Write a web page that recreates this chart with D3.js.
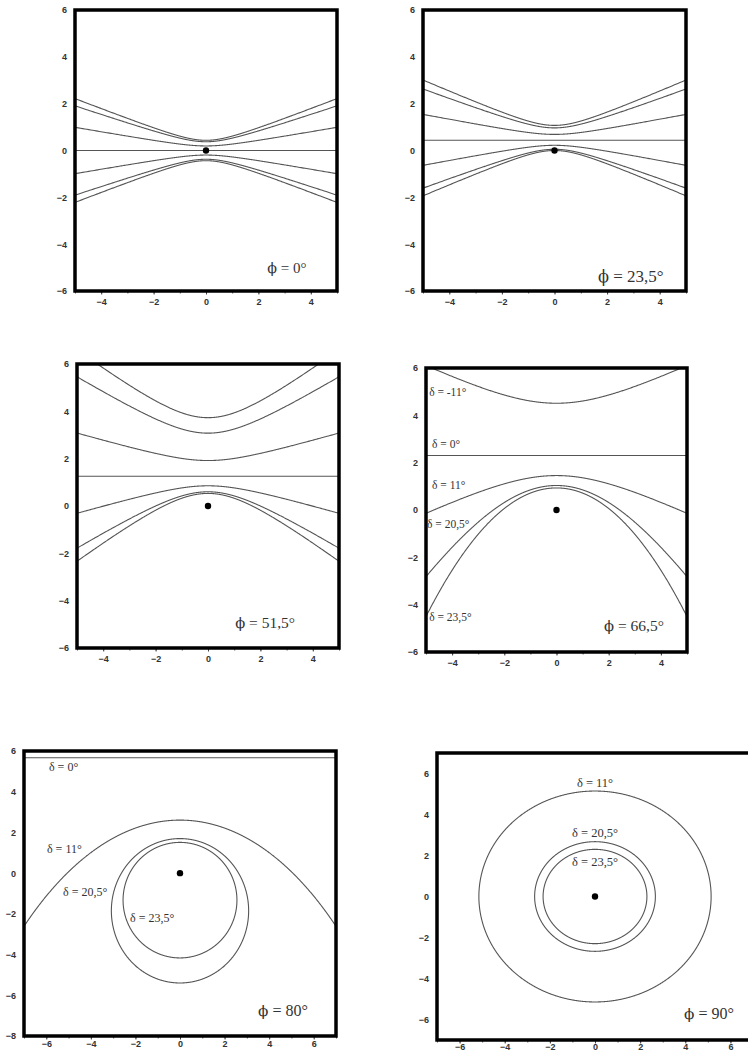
<!DOCTYPE html>
<html><head><meta charset="utf-8">
<script src="https://cdn.jsdelivr.net/npm/d3@7"></script>
<style>body{margin:0;background:#fff;overflow:hidden}</style>
</head><body>
<svg id="c" width="748" height="1052"></svg>
<script>
// ---- data ----
const latitudes = [0, 23.5, 51.5, 66.5, 80, 90];
const latitudeLabels = ["ϕ = 0°", "ϕ = 23,5°", "ϕ = 51,5°", "ϕ = 66,5°", "ϕ = 80°", "ϕ = 90°"];
const declinations = [-23.5, -20.5, -11, 0, 11, 20.5, 23.5];
const xDomains = [[-5, 5], [-5, 5], [-5, 5], [-5, 5], [-7, 7], [-7, 7]];
const yDomains = [[-6, 6], [-6, 6], [-6, 6], [-6, 6], [-8, 6], [-7, 7]];
const xTickLabels = [[-4,-2,0,2,4], [-4,-2,0,2,4], [-4,-2,0,2,4], [-4,-2,0,2,4], [-6,-4,-2,0,2,4,6], [-6,-4,-2,0,2,4,6]];
const yTickLabels = [[-6,-4,-2,0,2,4,6], [-6,-4,-2,0,2,4,6], [-6,-4,-2,0,2,4,6], [-6,-4,-2,0,2,4,6], [-8,-6,-4,-2,0,2,4,6], [-6,-4,-2,0,2,4,6]];
const declinationLabelsP4 = ["δ = -11°", "δ = 0°", "δ = 11°", "δ = 20,5°", "δ = 23,5°"];
const declinationLabelsP5 = ["δ = 0°", "δ = 11°", "δ = 20,5°", "δ = 23,5°"];
const declinationLabelsP6 = ["δ = 11°", "δ = 20,5°", "δ = 23,5°"];

// ---- layout (pixels / anchor positions) ----
const panels = [
  {x0: 75,  x1: 337, y0: 10,  y1: 291, phiPos: [3.09, -5.23], phiSize: 15, tickPad: 4},
  {x0: 423, x1: 686, y0: 10,  y1: 291, phiPos: [2.9, -5.6],  phiSize: 17, tickPad: 4},
  {x0: 77,  x1: 339, y0: 364, y1: 648, phiPos: [2.18, -5.15], phiSize: 15.5, tickPad: 4},
  {x0: 426, x1: 687, y0: 368, y1: 652, phiPos: [2.97, -5.11], phiSize: 15.5, tickPad: 4},
  {x0: 24,  x1: 336, y0: 751, y1: 1036, phiPos: [4.62, -7.0], phiSize: 16, tickPad: 1},
  {x0: 437, x1: 753, y0: 753, y1: 1040, phiPos: [5.05, -5.98], phiSize: 16, tickPad: 0}
];
const deltaLabelLayout = [
  null, null, null,
  {labels: declinationLabelsP4, anchor: "start", size: 11.5, pos: [[-4.88, 4.82], [-4.77, 2.6], [-4.77, 0.9], [-4.96, -0.76], [-4.88, -4.69]]},
  {labels: declinationLabelsP5, anchor: "start", size: 12, pos: [[-5.88, 5.0], [-5.97, 0.98], [-5.25, -1.13], [-2.24, -2.41]]},
  {labels: declinationLabelsP6, anchor: "middle", size: 12.5, pos: [[0, 5.34], [0, 2.9], [0, 1.49]]}
];

const svg = d3.select("#c");

panels.forEach((p, i) => {
  const phi = latitudes[i];
  const xs = d3.scaleLinear().domain(xDomains[i]).range([p.x0, p.x1]);
  const ys = d3.scaleLinear().domain(yDomains[i]).range([p.y1, p.y0]);
  const g = svg.append("g");

  const clipId = "clip" + i;
  svg.append("defs").append("clipPath").attr("id", clipId)
    .append("rect").attr("x", p.x0).attr("y", p.y0)
    .attr("width", p.x1 - p.x0).attr("height", p.y1 - p.y0);

  // gnomonic projection centred on the zenith; shadow tip = point reflection
  const proj = d3.geoGnomonic().rotate([0, -phi]).scale(1).translate([0, 0])
    .clipAngle(89.6).precision(0.0015);
  const toPx = d3.geoTransform({
    point(x, y) { this.stream.point(xs(-x), ys(y)); }
  });
  const composed = {stream: s => proj.stream(toPx.stream(s))};
  const path = d3.geoPath(composed);

  const cg = g.append("g").attr("clip-path", `url(#${clipId})`);
  declinations.forEach(d => {
    const ring = d3.geoCircle().center([0, 90]).radius(90 - d).precision(0.2)().coordinates[0];
    const line = {type: "LineString", coordinates: ring};
    const dstr = path(line);
    if (dstr) {
      cg.append("path").attr("d", dstr)
        .attr("fill", "none").attr("stroke", "#555").attr("stroke-width", 1.1);
    }
  });

  // gnomon foot
  cg.append("circle").attr("cx", xs(0)).attr("cy", ys(0)).attr("r", 3.2).attr("fill", "#000");

  // axes
  const minor = d3.range(Math.ceil(xDomains[i][0]), Math.floor(xDomains[i][1]) + 1);
  g.append("g").attr("transform", `translate(0,${p.y1})`)
    .call(d3.axisBottom(xs).tickValues(minor).tickSize(2.5).tickFormat(""))
    .call(a => a.select(".domain").remove())
    .call(a => a.selectAll("line").attr("stroke", "#555"));
  g.append("g").attr("transform", `translate(0,${p.y1})`)
    .call(d3.axisBottom(xs).tickValues(xTickLabels[i]).tickSize(3.5).tickPadding(p.tickPad))
    .call(a => a.select(".domain").remove())
    .call(a => a.selectAll("line").attr("stroke", "#444"))
    .call(a => a.selectAll("text").attr("font-family", "Liberation Sans, Arial, sans-serif")
      .attr("font-weight", "bold").attr("font-size", 9).attr("fill", "#333"));
  g.append("g").attr("transform", `translate(${p.x0},0)`)
    .call(d3.axisLeft(ys).tickValues(yTickLabels[i]).tickSize(0).tickPadding(8))
    .call(a => a.select(".domain").remove())
    .call(a => a.selectAll("text").attr("font-family", "Liberation Sans, Arial, sans-serif")
      .attr("font-weight", "bold").attr("font-size", 9).attr("fill", "#333"));

  // frame
  g.append("rect").attr("x", p.x0).attr("y", p.y0)
    .attr("width", p.x1 - p.x0).attr("height", p.y1 - p.y0)
    .attr("fill", "none").attr("stroke", "#000").attr("stroke-width", 3.5);

  // latitude label (stroked phi glyph from DejaVu Serif, rest in Liberation Serif)
  const lab = latitudeLabels[i];
  const t = g.append("text").attr("x", xs(p.phiPos[0])).attr("y", ys(p.phiPos[1]))
    .attr("text-anchor", "middle").attr("font-family", "Liberation Serif, Times New Roman, serif")
    .attr("font-size", p.phiSize).attr("fill", "#333");
  t.append("tspan").attr("font-family", "DejaVu Serif, serif").attr("font-size", p.phiSize * 0.95).text(lab.charAt(0));
  t.append("tspan").text(lab.slice(1));

  // declination labels
  const dl = deltaLabelLayout[i];
  if (dl) {
    dl.labels.forEach((tx, k) => {
      g.append("text").attr("x", xs(dl.pos[k][0])).attr("y", ys(dl.pos[k][1]))
        .attr("text-anchor", dl.anchor).attr("font-family", "Liberation Serif, Times New Roman, serif")
        .attr("font-size", dl.size).attr("fill", "#333").text(tx);
    });
  }
});
</script>
</body></html>
